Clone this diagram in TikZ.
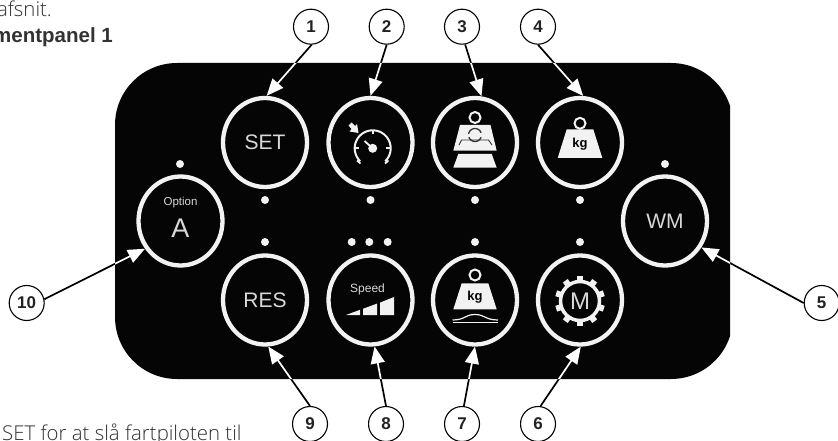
\documentclass[tikz,border=0pt]{standalone}
\usepackage{fontspec}
\setmainfont{Liberation Sans}
\newfontfamily\bodylight{Open Sans Light}
\usetikzlibrary{arrows.meta,shapes.geometric}
\definecolor{panelblack}{HTML}{050505}
\definecolor{ringwhite}{HTML}{F2F2F2}
\definecolor{labelgrey}{HTML}{D8D8D8}
\definecolor{inkdark}{HTML}{222222}
\definecolor{bodygrey}{HTML}{333333}
\tikzset{
  btn/.style={ellipse,draw=ringwhite,line width=4.3pt,minimum width=84pt,minimum height=89pt,inner sep=0pt,text=labelgrey,font=\fontsize{21}{24}\selectfont},
  callout/.style={circle,draw=black,line width=1.1pt,minimum size=35pt,inner sep=0pt,fill=white,text=inkdark,font=\fontsize{17}{19}\selectfont\bfseries},
  arr/.style={line width=1.7pt,-{Triangle[length=17pt,width=14pt]}},
  led/.style={fill=ringwhite},
  icon/.style={fill=ringwhite,draw=none},
  iconline/.style={draw=ringwhite,line width=1.8pt},
  kgtext/.style={text=black,font=\fontsize{13}{14}\selectfont\bfseries,inner sep=0pt},
  bodytext/.style={text=bodygrey,font=\fontsize{20.4}{22}\selectfont\bodylight,inner sep=0pt}
}
\newcommand{\allarrows}[1]{%
  \foreach \f/\t in {c1.-88/b1.88,c2.-90/b2.90,c3.-80/b3.82,c4.-90/b4.86,c5.180/b5.-36,
                     c6.82/b6.-89,c7.84/b7.-90,c8.90/b8.-85,c9.90/b9.-86,c10.12/b10.218}
    {\draw[arr,draw=#1,fill=#1] (\f) -- (\t);}}
\begin{document}
\begin{tikzpicture}[x=1pt,y=-1pt]
\useasboundingbox (0,0) rectangle (838,441);
\clip (0,0) rectangle (838,441);
\fill[white] (0,0) rectangle (838,441);
% surrounding page text
\node[bodytext,anchor=base east] (t1) at (52,17) {afsnit.};
\node[bodytext,anchor=base east,font=\fontsize{20.5}{22}\selectfont\bfseries] (t2) at (113,43) {mentpanel 1};
\node[bodytext,anchor=base west] (t3) at (2,440) {SET for at slå fartpiloten til};
% panel
\begin{scope}
  \clip (0,0) rectangle (730,441);
  \fill[panelblack,rounded corners=62pt] (115,63) rectangle (733,379);
\end{scope}
% buttons
\node[btn] (b1) at (265,142.5) {SET};
\node[btn] (b2) at (370.5,142.5) {};
\node[btn] (b3) at (475,142.5) {};
\node[btn] (b4) at (580,142.5) {};
\node[btn] (b5) at (665,221) {WM};
\node[btn] (b6) at (580,300) {};
\node[btn] (b7) at (475,300) {};
\node[btn] (b8) at (370.5,300) {};
\node[btn] (b9) at (265,300) {RES};
\node[btn] (b10) at (180.5,221) {};
% texts inside
\node[text=labelgrey,font=\fontsize{11.5}{12}\selectfont,inner sep=0pt] (optlabel) at (180.5,203) {Option};
\node[text=labelgrey,font=\fontsize{27}{28}\selectfont,inner sep=0pt] (optA) at (180.5,228) {A};
\node[text=labelgrey,font=\fontsize{12}{13}\selectfont,inner sep=0pt] (speedlabel) at (367.5,289) {Speed};
% LEDs
\foreach \x/\y in {265/200,370.5/200,475/200,580/200,180/164,665/164,265/242,351.7/242,369.3/242,387.7/242,475/242,580/242}
  {\fill[led] (\x,\y) circle[radius=4pt];}
% speed wedge
\fill[icon] (346,315) -- (360,309.8) -- (360,315) -- cycle;
\fill[icon] (363,315) -- (363,308.8) -- (377,303.6) -- (377,315) -- cycle;
\fill[icon] (380,315) -- (380,302.6) -- (394,297) -- (394,315) -- cycle;
% gauge icon
\draw[iconline,line width=2pt] plot[smooth,domain=-46:226,samples=40] ({372.7+18*cos(\x)},{148.3-18*sin(\x)});
\fill[icon] (372.7,148.3) circle[radius=4.5pt];
\draw[iconline] (372.7,148.3) -- (364.5,141);
\draw[iconline] (372.7,130.3) -- (372.7,134.5);
\draw[iconline] (354.7,148.3) -- (359,148.3);
\draw[iconline] (390.7,148.3) -- (386.4,148.3);
\draw[iconline] (357,160.5) -- (360.5,163.5);
\draw[iconline] (388.5,160.5) -- (385,163.5);
\fill[icon] (348.5,125.5) -- (351.5,122.5) -- (355,126) -- (357,124) -- (358.5,133) -- (349.5,131.5) -- (351.5,129) -- cycle;
% weight with reset icon
\draw[iconline,line width=2pt] (475,117.5) circle[radius=5.5pt];
\fill[icon] (460,125) -- (490.5,125) -- (496.7,150.7) -- (453.3,150.7) -- cycle;
\fill[icon] (458.3,154) -- (491.7,154) -- (496.7,167.7) -- (453.3,167.7) -- cycle;
\draw[draw=bodygrey,line width=.9pt] (459,145) -- (461.5,140) -- (488.5,140) -- (492,145);
\draw[draw=bodygrey,line width=1.3pt] plot[smooth,domain=20:170,samples=12] ({475+6.5*cos(\x)},{135-6.5*sin(\x)});
\draw[draw=bodygrey,line width=1.3pt] plot[smooth,domain=200:340,samples=12] ({475+6.5*cos(\x)},{135-6.5*sin(\x)});
% kg weight icon
\draw[iconline,line width=2pt] (580,123.3) circle[radius=5.5pt];
\fill[icon] (566.7,129.3) -- (593.3,129.3) -- (602.3,158) -- (557.7,158) -- cycle;
\node[kgtext] (kg1) at (580,144) {kg};
% kg with road icon
\draw[iconline,line width=2pt] (475,275) circle[radius=5.5pt];
\fill[icon] (461.7,283.3) -- (488.3,283.3) -- (496.7,309.3) -- (453.3,309.3) -- cycle;
\node[kgtext] (kg2) at (475,297.3) {kg};
\draw[iconline,line width=1.2pt] (452.5,320) .. controls (465,320) and (465,314.5) .. (475,314.5) .. controls (485,314.5) and (485,320) .. (498,320);
\draw[iconline,line width=1.2pt] (452.5,322.8) -- (498,322.8);
% gear icon
\foreach \a in {0,36,...,324}
  {\draw[draw=ringwhite,line width=6pt] ({580+19*cos(\a+18)},{301-19*sin(\a+18)}) -- ({580+25*cos(\a+18)},{301-25*sin(\a+18)});}
\draw[draw=ringwhite,line width=3.5pt] (580,301) circle[radius=19.5pt];
\node[text=labelgrey,font=\fontsize{24}{25}\selectfont,inner sep=0pt] (gearM) at (580,301) {M};
% callouts
\node[callout] (c1) at (311,26.7) {1};
\node[callout] (c2) at (386.7,26.7) {2};
\node[callout] (c3) at (462,26.7) {3};
\node[callout] (c4) at (538,26.7) {4};
\node[callout] (c5) at (821.7,303) {5};
\node[callout] (c6) at (538,424) {6};
\node[callout] (c7) at (462,424) {7};
\node[callout] (c8) at (386,424) {8};
\node[callout] (c9) at (310,424) {9};
\node[callout] (c10) at (26.7,303) {10};
% connectors: black on the paper, white over the panel
\allarrows{black}
\begin{scope}
  \clip[rounded corners=60pt] (115,63) rectangle (730,379);
  \allarrows{white}
\end{scope}
\end{tikzpicture}
\end{document}
